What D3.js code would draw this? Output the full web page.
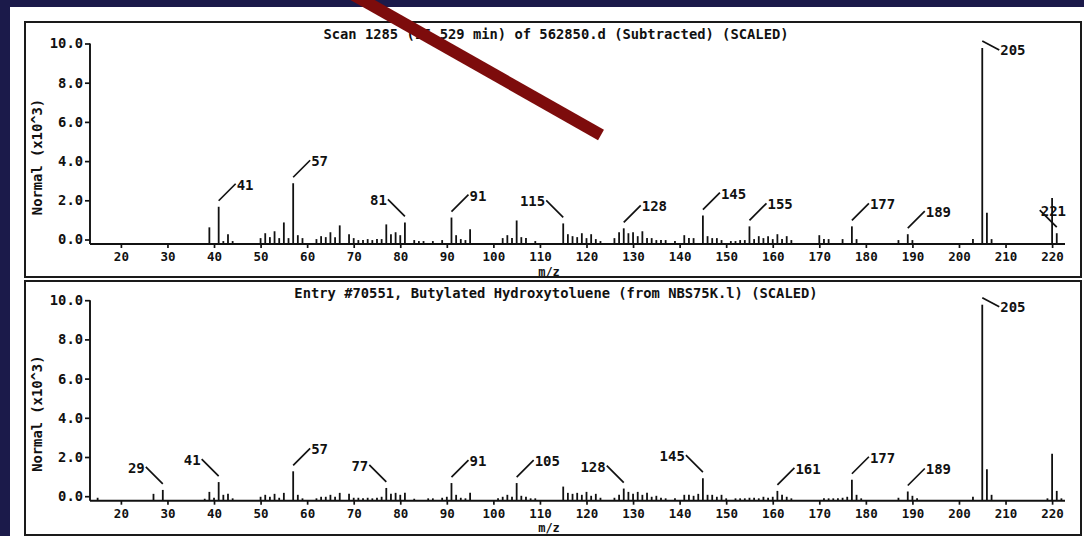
<!DOCTYPE html>
<html>
<head>
<meta charset="utf-8">
<title>Scan 1285 vs library entry</title>
<script src="https://cdn.jsdelivr.net/npm/d3@7"></script>
<style>
  body { margin: 0; background: #1b1a4a; }
  text { font-family: "DejaVu Sans Mono", monospace; fill: #111; font-weight: bold; }
</style>
</head>
<body>
<svg id="chart" width="1084" height="536"></svg>
<script>
// Panel titles
const topTitle = "Scan 1285 (15.529 min) of 562850.d (Subtracted) (SCALED)";
const bottomTitle = "Entry #70551, Butylated Hydroxytoluene (from NBS75K.l) (SCALED)";

// Axis ticks
const mzTicks = [20, 30, 40, 50, 60, 70, 80, 90, 100, 110, 120, 130, 140, 150, 160, 170, 180, 190, 200, 210, 220];
const abundTicks = [0, 2, 4, 6, 8, 10];

// Top spectrum (scan, subtracted), abundance x10^3
const topMz = [39, 41, 42, 43, 44, 50, 51, 52, 53, 54, 55, 56, 57, 58, 59,
  62, 63, 64, 65, 66, 67, 69, 70, 71, 72, 73, 74, 75, 76, 77, 78, 79, 80, 81, 83,
  84, 85, 87, 89, 91, 92, 93, 94, 95, 102, 103, 104, 105, 106, 107, 109,
  115, 116, 117, 118, 119, 120, 121, 122, 123, 126, 127, 128, 129, 130, 131, 132, 133, 134, 135, 136, 137,
  139, 141, 142, 143, 145, 146, 147, 148, 149, 151, 152, 153, 154, 155, 156, 157, 158, 159, 160, 161, 162, 163, 164,
  170, 171, 172, 175, 177, 178, 187, 189, 190, 203, 205, 206, 207, 220, 221];
const topAbund = [0.85, 1.9, 0.15, 0.5, 0.15, 0.3, 0.55, 0.35, 0.65, 0.3, 1.1, 0.3, 3.1, 0.45, 0.3,
  0.25, 0.4, 0.35, 0.6, 0.35, 0.95, 0.5, 0.3, 0.2, 0.2, 0.25, 0.2, 0.25, 0.25, 1.0, 0.5, 0.6, 0.45, 1.1, 0.2,
  0.15, 0.15, 0.15, 0.2, 1.35, 0.45, 0.25, 0.2, 0.75, 0.3, 0.45, 0.3, 1.2, 0.35, 0.3, 0.15,
  1.05, 0.5, 0.4, 0.35, 0.55, 0.3, 0.5, 0.25, 0.15, 0.3, 0.6, 0.8, 0.55, 0.6, 0.4, 0.65, 0.3, 0.3, 0.2, 0.2, 0.2,
  0.15, 0.45, 0.3, 0.3, 1.45, 0.4, 0.3, 0.3, 0.2, 0.15, 0.15, 0.2, 0.2, 0.9, 0.25, 0.4, 0.3, 0.4, 0.25, 0.5, 0.25, 0.4, 0.2,
  0.45, 0.25, 0.25, 0.25, 0.9, 0.25, 0.2, 0.5, 0.2, 0.25, 10.0, 1.6, 0.25, 2.35, 0.55];
const topLabels = [41, 57, 81, 91, 115, 128, 145, 155, 177, 189, 205, 221];

// Bottom spectrum (library entry), abundance x10^3
const bottomMz = [15, 27, 29, 38, 39, 40, 41, 42, 43, 44, 50, 51, 52, 53, 54, 55, 57, 58, 59,
  62, 63, 64, 65, 66, 67, 69, 70, 71, 72, 73, 74, 75, 76, 77, 78, 79, 80, 81, 83,
  86, 87, 89, 90, 91, 92, 93, 94, 95, 101, 102, 103, 104, 105, 106, 107, 108, 109,
  115, 116, 117, 118, 119, 120, 121, 122, 123, 126, 127, 128, 129, 130, 131, 132, 133, 134, 135, 136, 137,
  139, 141, 142, 143, 144, 145, 146, 147, 148, 149, 150, 152, 153, 154, 155, 156, 157, 158, 159, 160, 161, 162, 163, 164,
  171, 172, 173, 174, 175, 176, 177, 178, 179, 187, 189, 190, 191, 203, 205, 206, 207, 219, 220, 221, 222];
const bottomAbund = [0.15, 0.35, 0.55, 0.1, 0.45, 0.15, 0.95, 0.3, 0.35, 0.12, 0.2, 0.3, 0.2, 0.35, 0.15, 0.4, 1.5, 0.3, 0.12,
  0.12, 0.2, 0.2, 0.3, 0.2, 0.4, 0.35, 0.15, 0.15, 0.12, 0.15, 0.12, 0.15, 0.2, 0.65, 0.35, 0.4, 0.3, 0.4, 0.1,
  0.12, 0.12, 0.15, 0.2, 0.9, 0.3, 0.15, 0.12, 0.4, 0.12, 0.2, 0.3, 0.2, 0.9, 0.25, 0.2, 0.12, 0.12,
  0.72, 0.4, 0.35, 0.4, 0.3, 0.45, 0.25, 0.35, 0.15, 0.15, 0.3, 0.62, 0.45, 0.35, 0.45, 0.3, 0.4, 0.2, 0.25, 0.15, 0.12,
  0.12, 0.3, 0.3, 0.25, 0.35, 1.15, 0.3, 0.3, 0.2, 0.3, 0.12, 0.12, 0.12, 0.12, 0.15, 0.15, 0.12, 0.2, 0.15, 0.2, 0.5, 0.3, 0.2, 0.12,
  0.12, 0.12, 0.12, 0.12, 0.15, 0.2, 1.07, 0.3, 0.12, 0.15, 0.47, 0.25, 0.12, 0.2, 10.0, 1.6, 0.3, 0.12, 2.4, 0.5, 0.12];
const bottomLabels = [29, 41, 57, 77, 91, 105, 128, 145, 161, 177, 189, 205];

const svg = d3.select("#chart");

// paper area (the scan sits on a dark page)
svg.append("rect").attr("x", 10).attr("y", 7).attr("width", 1074).attr("height", 529).attr("fill", "#ffffff");

// shared m/z scale
const x = d3.scaleLinear().domain([20, 220]).range([120.9, 1052.1]);

// peaks whose leader goes up-left (text on the left of the line)
const leftLeaders = { top: [81, 115], bottom: [29, 41, 77, 128, 145] };

function drawPanel(cfg) {
  const g = svg.append("g");

  // frame
  g.append("rect")
    .attr("x", 25).attr("y", cfg.frameY)
    .attr("width", 1056).attr("height", cfg.frameH)
    .attr("fill", "none").attr("stroke", "#1a1a1a").attr("stroke-width", 2);

  // bars measured from the axis line
  const y = d3.scaleLinear().domain([0, 10]).range([cfg.base, cfg.base - 196]);

  const peaks = cfg.mz.map((m, i) => ({ mz: m, v: cfg.abund[i] }));

  g.selectAll("line.bar")
    .data(peaks)
    .join("line")
    .attr("class", "bar")
    .attr("x1", d => x(d.mz)).attr("x2", d => x(d.mz))
    .attr("y1", cfg.base).attr("y2", d => y(d.v))
    .attr("stroke", "#111").attr("stroke-width", 1.8);

  // y axis (plotter puts the tick marks a little above the bar scale)
  const yAxis = g.append("g")
    .attr("transform", `translate(90,-4.5)`)
    .call(d3.axisLeft(y).tickValues(abundTicks).tickSize(5).tickFormat(d3.format(".1f")));
  yAxis.select(".domain").remove();
  yAxis.selectAll("line").attr("stroke", "#111").attr("stroke-width", 1.7);
  yAxis.selectAll("text").attr("x", -7).style("font-size", "13.8px").style("font-family", "DejaVu Sans Mono");
  g.append("line")
    .attr("x1", 90).attr("x2", 90)
    .attr("y1", y(10) - 4.5).attr("y2", cfg.base)
    .attr("stroke", "#111").attr("stroke-width", 1.9);

  // x axis
  const xAxis = g.append("g")
    .attr("transform", `translate(0,${cfg.base})`)
    .call(d3.axisBottom(x).tickValues(mzTicks).tickSize(4).tickSizeOuter(0));
  xAxis.select(".domain").remove();
  xAxis.selectAll("line").attr("stroke", "#111").attr("stroke-width", 1.7);
  xAxis.selectAll("text").attr("y", 8).style("font-size", "12.5px").style("font-family", "DejaVu Sans Mono");
  g.append("line")
    .attr("x1", 90).attr("x2", 1065)
    .attr("y1", cfg.base).attr("y2", cfg.base)
    .attr("stroke", "#111").attr("stroke-width", 1.9);

  // titles
  g.append("text")
    .attr("x", 556).attr("y", cfg.frameY + 13)
    .attr("text-anchor", "middle").attr("dominant-baseline", "middle")
    .style("font-size", "13.8px")
    .text(cfg.title);

  g.append("text")
    .attr("x", 549).attr("y", cfg.base + 28)
    .attr("text-anchor", "middle").attr("dominant-baseline", "middle")
    .style("font-size", "12px")
    .text("m/z");

  g.append("text")
    .attr("transform", `translate(38,${cfg.base - 87}) rotate(-90)`)
    .attr("text-anchor", "middle").attr("dominant-baseline", "middle")
    .style("font-size", "13.8px")
    .text("Normal (x10^3)");

  // peak labels with leader lines
  const lookup = {};
  peaks.forEach(p => { lookup[p.mz] = p.v; });

  cfg.labels.forEach(m => {
    const px = x(m);
    const top = y(lookup[m]);
    let x1 = px, y1 = top - 6, x2, y2, tx, ty, anchor;
    if (lookup[m] > 8) {
      // base peak: leader runs right and slightly down
      y1 = top - 7; x2 = px + 17; y2 = top + 2;
      tx = x2 + 1; ty = y2 + 1; anchor = "start";
    } else if (cfg.left.includes(m)) {
      x2 = px - 17; y2 = top - 23;
      tx = x2 - 1; ty = y2 + 2; anchor = "end";
    } else if (cfg.leftOver.includes(m)) {
      x2 = px - 17; y2 = top - 23;
      tx = x2 + 1; ty = y2 + 2; anchor = "start";
    } else {
      x2 = px + 17; y2 = top - 23;
      tx = x2 + 1; ty = y2 + 2; anchor = "start";
    }
    g.append("line")
      .attr("x1", x1).attr("y1", y1).attr("x2", x2).attr("y2", y2)
      .attr("stroke", "#111").attr("stroke-width", 1.7);
    g.append("text")
      .attr("x", tx).attr("y", ty)
      .attr("text-anchor", anchor).attr("dominant-baseline", "middle")
      .style("font-size", "14px")
      .text(m);
  });
}

drawPanel({ frameY: 22, frameH: 255, base: 244, title: topTitle,
  mz: topMz, abund: topAbund, labels: topLabels, left: leftLeaders.top, leftOver: [221] });
drawPanel({ frameY: 281, frameH: 254, base: 500.7, title: bottomTitle,
  mz: bottomMz, abund: bottomAbund, labels: bottomLabels, left: leftLeaders.bottom, leftOver: [] });

// dark red pen stroke drawn across the top of the page
svg.append("line")
  .attr("x1", 352).attr("y1", -6).attr("x2", 601).attr("y2", 135)
  .attr("stroke", "#7d0c0c").attr("stroke-width", 12);
</script>
</body>
</html>
